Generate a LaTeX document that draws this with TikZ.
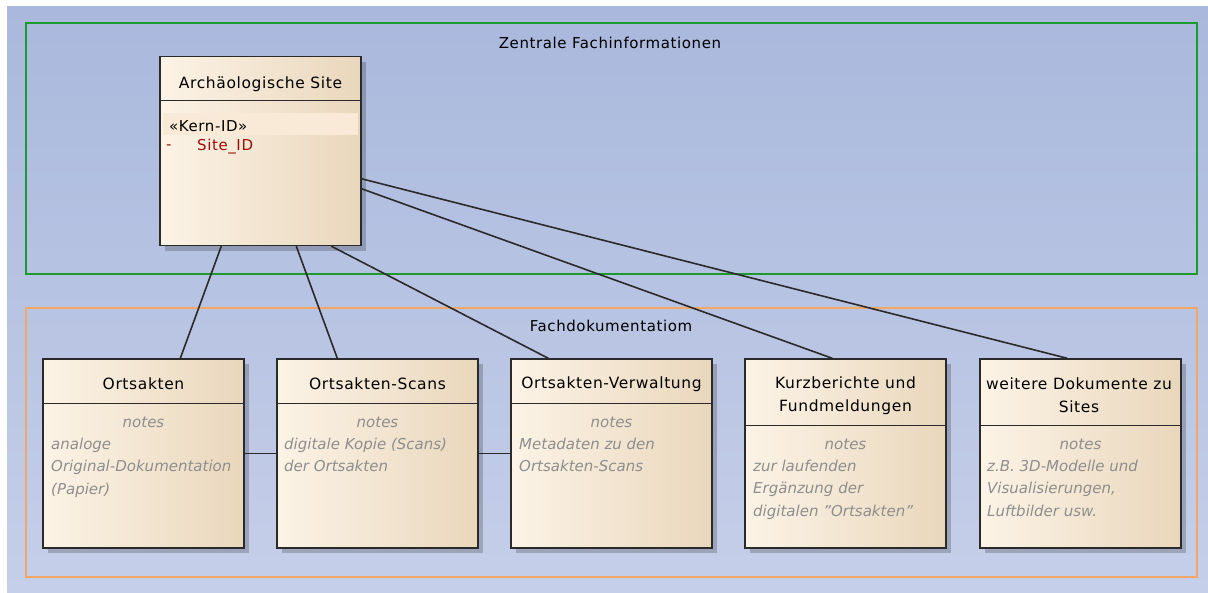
\documentclass[tikz,border=0pt]{standalone}
\usepackage{fontspec}
\setmainfont{DejaVu Sans}
\newfontfamily\spacedsans{DejaVu Sans}[LetterSpace=4]
\usetikzlibrary{calc,shadows}

\definecolor{bgtop}{HTML}{A9B8DC}
\definecolor{bgbot}{HTML}{C6CFE9}
\definecolor{framegreen}{HTML}{1E9A2C}
\definecolor{frameorange}{HTML}{F2A765}
\definecolor{cremeL}{HTML}{FCF3E6}
\definecolor{cremeM}{HTML}{FAEFE0}
\definecolor{cremeR}{HTML}{E9D7BC}
\definecolor{boxline}{HTML}{2A2A2A}
\definecolor{notegray}{HTML}{8E8E8E}
\definecolor{attrred}{HTML}{9E0A0A}
\definecolor{stereo}{HTML}{F8EAD6}

\newcommand{\straightquote}{\char"22\relax}

\tikzset{
  frame/.style={draw=#1, line width=1.4pt, inner sep=0pt, minimum width=1171pt},
  umlbox/.style={draw=boxline, line width=1.4pt, left color=cremeL, middle color=cremeM, right color=cremeR,
    minimum width=201pt, minimum height=189pt, inner sep=0pt,
    drop shadow={shadow xshift=5pt, shadow yshift=-5pt, fill=black, opacity=0.2}},
  divider/.style={draw=boxline, line width=1.2pt},
  titletext/.style={font=\spacedsans\fontsize{15.5}{23}\selectfont, align=center, inner sep=0pt},
  frametext/.style={font=\spacedsans\fontsize{15}{20}\selectfont, inner sep=0pt},
  notehead/.style={font=\fontsize{15}{20}\selectfont\itshape, text=notegray, inner sep=0pt},
  notetext/.style={font=\fontsize{15}{22.3}\selectfont\itshape, text=notegray, align=left, anchor=north west, inner sep=0pt},
  link/.style={draw=boxline, line width=1.6pt}
}

\begin{document}
\begin{tikzpicture}[x=1pt,y=-1pt]
\useasboundingbox (0,0) rectangle (1208,592);
\fill[white] (0,0) rectangle (1208,592);
\shade[top color=bgtop, bottom color=bgbot] (7,6) rectangle (1208,592);

% package frames
\node[frame=framegreen, minimum height=251pt] (central) at (611.5,148.5) {};
\node[frametext] (centralLbl) at (610,43) {Zentrale Fachinformationen};
\node[frame=frameorange, minimum height=269pt] (docs) at (611.5,442.5) {};
\node[frametext] (docsLbl) at (611,326) {Fachdokumentatiom};

% core class
\node[umlbox] (site) at (260.5,151) {};
\draw[divider] ($(site.north west)+(0,45)$) -- ($(site.north east)+(0,45)$);
\node[titletext] (siteT) at (260.5,84) {Archäologische Site};
\fill[stereo] ($(site.north west)+(4,57)$) rectangle ($(site.north east)+(-4,79)$);
\node[frametext, anchor=west] (siteSt) at (169,126) {«Kern-ID»};
\node[frametext, anchor=west, text=attrred] (siteDash) at (166,147) {-};
\node[frametext, anchor=west, text=attrred] (siteAttr) at (197,147) {Site\_ID};

% documentation classes
\node[umlbox] (orts) at (143.5,453.5) {};
\draw[divider] ($(orts.north west)+(0,45)$) -- ($(orts.north east)+(0,45)$);
\node[titletext] (ortsT) at (143.5,384) {Ortsakten};
\node[notehead] (ortsN) at (143.5,422) {notes};
\node[notetext] (ortsX) at (51,438) {analoge\\Original-Dokumentation\\(Papier)};

\node[umlbox] (scans) at (377.5,453.5) {};
\draw[divider] ($(scans.north west)+(0,45)$) -- ($(scans.north east)+(0,45)$);
\node[titletext] (scansT) at (377.5,384) {Ortsakten-Scans};
\node[notehead] (scansN) at (377.5,422) {notes};
\node[notetext] (scansX) at (284,438) {digitale Kopie (Scans)\\der Ortsakten};

\node[umlbox] (verw) at (611.5,453.5) {};
\draw[divider] ($(verw.north west)+(0,45)$) -- ($(verw.north east)+(0,45)$);
\node[titletext] (verwT) at (611.5,384) {Ortsakten-Verwaltung};
\node[notehead] (verwN) at (611.5,422) {notes};
\node[notetext] (verwX) at (519,438) {Metadaten zu den\\Ortsakten-Scans};

\node[umlbox] (kurz) at (845.5,453.5) {};
\draw[divider] ($(kurz.north west)+(0,67)$) -- ($(kurz.north east)+(0,67)$);
\node[titletext] (kurzT) at (845.5,395.5) {Kurzberichte und\\Fundmeldungen};
\node[notehead] (kurzN) at (845.5,444) {notes};
\node[notetext] (kurzX) at (753,460) {zur laufenden\\Ergänzung der\\digitalen \straightquote Ortsakten\straightquote};

\node[umlbox] (weit) at (1080.5,453.5) {};
\draw[divider] ($(weit.north west)+(0,67)$) -- ($(weit.north east)+(0,67)$);
\node[titletext] (weitT) at (1079,395.5) {weitere Dokumente zu\\Sites};
\node[notehead] (weitN) at (1080.5,444) {notes};
\node[notetext] (weitX) at (987,460) {z.B. 3D-Modelle und\\Visualisierungen,\\Luftbilder usw.};

% associations
\draw[link] ($(site.south west)+(62,0)$) -- ($(orts.north west)+(138,0)$);
\draw[link] ($(site.south west)+(137,0)$) -- ($(scans.north west)+(61,0)$);
\draw[link] ($(site.south west)+(172,0)$) -- ($(verw.north west)+(38,0)$);
\draw[link] ($(site.north east)+(0,133)$) -- ($(kurz.north west)+(88,0)$);
\draw[link] ($(site.north east)+(0,123)$) -- ($(weit.north west)+(88,0)$);
\draw[link] (orts.east) -- (scans.west);
\draw[link] (scans.east) -- (verw.west);
\end{tikzpicture}
\end{document}
